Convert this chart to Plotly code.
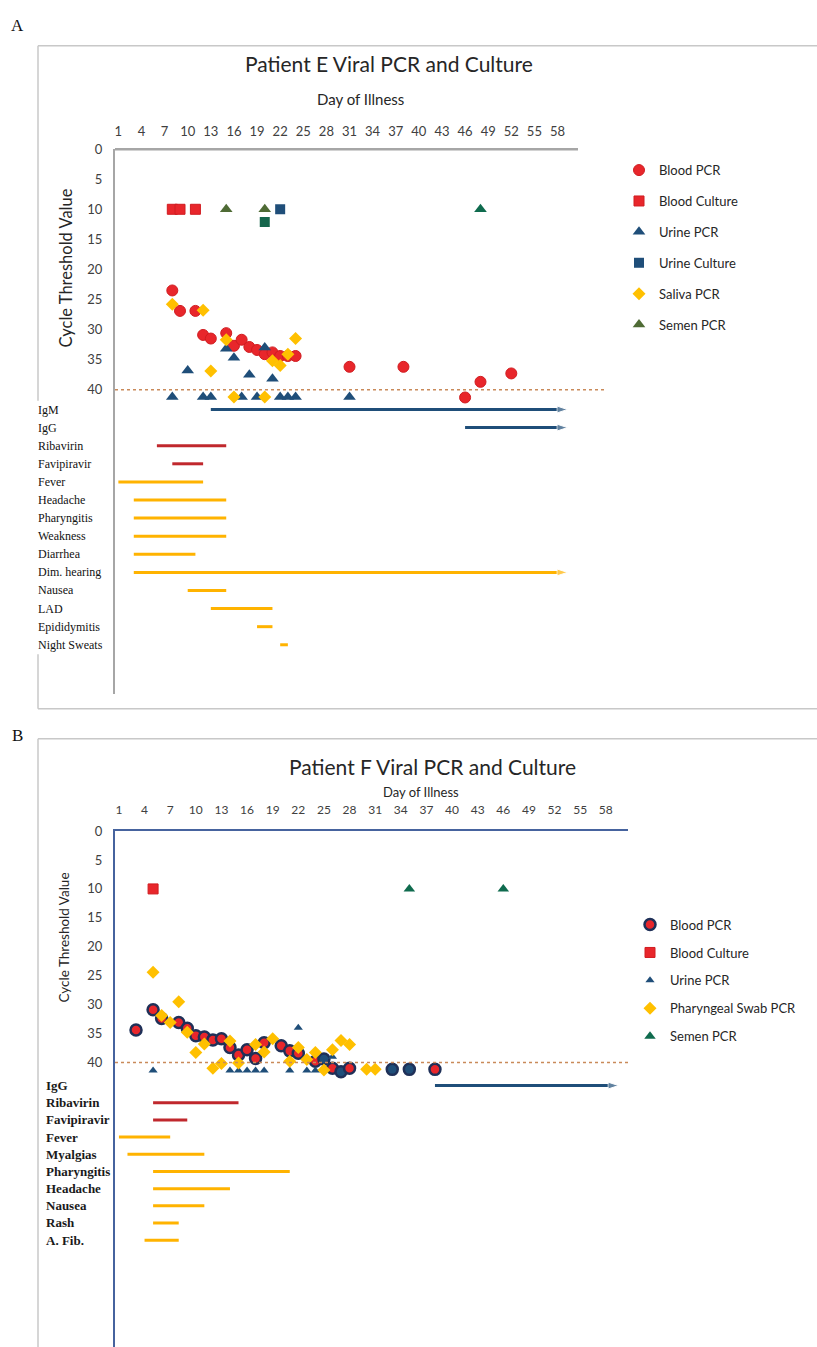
import plotly.graph_objects as go

W, H = 817, 1347
def px(x): return x / W
def py(y): return 1 - y / H

# ---------------- shared ----------------
tick_days = list(range(1, 59, 3))
ct_ticks = [0, 5, 10, 15, 20, 25, 30, 35, 40]
threshold = 40

# ---------------- Panel A (Patient E) ----------------
a_blood_pcr_day = [8, 9, 11, 12, 13, 15, 16, 17, 18, 19, 20, 21, 22, 23, 24, 31, 38, 46, 48, 52]
a_blood_pcr_ct = [23.5, 26.9, 26.9, 30.9, 31.5, 30.6, 32.7, 31.7, 32.9, 33.4, 34.1, 33.8, 34.4, 34.4, 34.4, 36.2, 36.2, 41.3, 38.7, 37.3]
a_blood_cult_day = [8, 9, 11]
a_blood_cult_ct = [10, 10, 10]
a_urine_pcr_day = [8, 10, 12, 13, 15, 16, 17, 18, 19, 20, 21, 22, 23, 24, 31]
a_urine_pcr_ct = [41.2, 36.8, 41.2, 41.2, 33.2, 34.7, 41.2, 37.5, 41.2, 33.0, 38.2, 41.2, 41.2, 41.2, 41.2]
a_urine_cult_day = [22, 20]
a_urine_cult_ct = [10, 12.1]
a_saliva_day = [8, 12, 13, 15, 16, 20, 21, 22, 23, 24]
a_saliva_ct = [25.8, 26.8, 36.9, 31.7, 41.2, 41.2, 35.2, 36.0, 34.1, 31.5]
a_semen_day = [15, 20, 48]
a_semen_ct = [10, 10, 10]

a_sym_labels = ["IgM", "IgG", "Ribavirin", "Favipiravir", "Fever", "Headache", "Pharyngitis",
                "Weakness", "Diarrhea", "Dim. hearing", "Nausea", "LAD", "Epididymitis", "Night Sweats"]
a_sym_start = [13, 46, 6, 8, 1, 3, 3, 3, 3, 3, 10, 13, 19, 22]
a_sym_end = [59.3, 59.3, 15, 12, 12, 15, 15, 15, 11, 59.3, 15, 21, 21, 23]
a_sym_kind = ["ab", "ab", "drug", "drug", "sym", "sym", "sym", "sym", "sym", "sym", "sym", "sym", "sym", "sym"]
a_sym_arrow = [True, True, False, False, False, False, False, False, False, True, False, False, False, False]

# ---------------- Panel B (Patient F) ----------------
b_blood_pcr_day = [3, 5, 6, 8, 9, 10, 11, 12, 13, 14, 15, 16, 17, 18, 20, 21, 22, 24, 25, 26, 27, 28, 33, 35, 38]
b_blood_pcr_ct = [34.4, 30.9, 32.4, 33.1, 34.1, 35.4, 35.6, 36.1, 35.9, 37.4, 38.7, 37.8, 39.3, 36.6, 37.1, 38.0, 38.4, 39.8, 39.4, 41.0, 41.6, 41.0, 41.2, 41.2, 41.2]
b_blood_pcr_navy = [False]*18 + [True, False, True, False, True, True, False]
b_blood_cult_day = [5]
b_blood_cult_ct = [10]
b_urine_pcr_day = [5, 14, 15, 16, 17, 18, 21, 22, 23, 24, 26]
b_urine_pcr_ct = [41.4, 41.4, 41.4, 41.4, 41.4, 41.4, 41.4, 34.0, 41.4, 41.4, 39.0]
b_swab_day = [5, 6, 7, 8, 9, 10, 11, 12, 13, 14, 15, 17, 18, 19, 21, 22, 23, 24, 25, 26, 27, 28, 30, 31]
b_swab_ct = [24.4, 31.9, 33.1, 29.5, 34.8, 38.3, 36.8, 41.0, 40.2, 36.3, 40.1, 36.9, 38.2, 35.9, 39.8, 37.4, 39.5, 38.3, 41.3, 37.8, 36.2, 36.9, 41.2, 41.2]
b_semen_day = [35, 46]
b_semen_ct = [10, 10]

b_sym_labels = ["IgG", "Ribavirin", "Favipiravir", "Fever", "Myalgias", "Pharyngitis",
                "Headache", "Nausea", "Rash", "A. Fib."]
b_sym_start = [38, 5, 5, 1, 2, 5, 5, 5, 5, 4]
b_sym_end = [59.5, 15, 9, 7, 11, 21, 14, 11, 8, 8]
b_sym_kind = ["ab", "drug", "drug", "sym", "sym", "sym", "sym", "sym", "sym", "sym"]
b_sym_arrow = [True, False, False, False, False, False, False, False, False, False]

# ---------------- styles ----------------
RED = "#e8262b"
NAVY = "#1f4e79"
GOLD = "#ffc000"
OLIVE = "#4f6b35"
DGREEN = "#0f6b4e"
BAR_RED = "#c0282d"
BAR_GOLD = "#ffb300"
kind_color = {"ab": NAVY, "drug": BAR_RED, "sym": BAR_GOLD}
FONT = "Lato"
SERIF = "Liberation Serif"

fig = go.Figure()

def scat(x, y, name, xa, ya, legend, marker, showlegend=True):
    fig.add_trace(go.Scatter(x=x, y=y, mode="markers", name=name, xaxis=xa, yaxis=ya,
                             legend=legend, legendgroup=name + legend, marker=marker,
                             showlegend=showlegend, hoverinfo="x+y+name"))

# Panel A markers
scat(a_blood_pcr_day, a_blood_pcr_ct, "Blood PCR", "x", "y", "legend",
     dict(symbol="circle", size=11, color=RED, line=dict(color="#d01c20", width=1)))
scat(a_blood_cult_day, a_blood_cult_ct, "Blood Culture", "x", "y", "legend",
     dict(symbol="square", size=10, color=RED, line=dict(color="#d01c20", width=1)))
scat(a_urine_pcr_day, a_urine_pcr_ct, "Urine PCR", "x", "y", "legend",
     dict(symbol="triangle-up", size=11, color=NAVY))
scat(a_urine_cult_day, a_urine_cult_ct, "Urine Culture", "x", "y", "legend",
     dict(symbol="square", size=10, color=[NAVY, "#16664c"]))
scat(a_saliva_day, a_saliva_ct, "Saliva PCR", "x", "y", "legend",
     dict(symbol="diamond", size=10, color=GOLD))
scat(a_semen_day, a_semen_ct, "Semen PCR", "x", "y", "legend",
     dict(symbol="triangle-up", size=11, color=[OLIVE, OLIVE, DGREEN]))

# Panel B markers
scat(b_blood_pcr_day, b_blood_pcr_ct, "Blood PCR", "x2", "y2", "legend2",
     dict(symbol="circle", size=11, color=[NAVY if n else RED for n in b_blood_pcr_navy],
          line=dict(color="#1f3058", width=2.5)))
scat(b_blood_cult_day, b_blood_cult_ct, "Blood Culture", "x2", "y2", "legend2",
     dict(symbol="square", size=10, color=RED, line=dict(color="#d01c20", width=1)))
scat(b_urine_pcr_day, b_urine_pcr_ct, "Urine PCR", "x2", "y2", "legend2",
     dict(symbol="triangle-up", size=8, color=NAVY))
scat(b_swab_day, b_swab_ct, "Pharyngeal Swab PCR", "x2", "y2", "legend2",
     dict(symbol="diamond", size=10, color=GOLD))
scat(b_semen_day, b_semen_ct, "Semen PCR", "x2", "y2", "legend2",
     dict(symbol="triangle-up", size=10, color=DGREEN))

# Symptom / treatment bars
def bars(labels, starts, ends, kinds, arrows, row0, step, xa, ya, xlab, fontdict):
    for i, lab in enumerate(labels):
        row = row0 + step * i
        col = kind_color[kinds[i]]
        if arrows[i]:
            fig.add_trace(go.Scatter(x=[starts[i], ends[i]], y=[row, row], xaxis=xa, yaxis=ya,
                                     mode="lines+markers", line=dict(color=col, width=3),
                                     marker=dict(symbol="arrow", size=[0, 11], angleref="previous",
                                                 color=col),
                                     showlegend=False, hoverinfo="skip"))
        else:
            fig.add_trace(go.Scatter(x=[starts[i], ends[i]], y=[row, row], xaxis=xa, yaxis=ya,
                                     mode="lines", line=dict(color=col, width=3),
                                     showlegend=False, hoverinfo="skip"))
        fig.add_annotation(text=lab, xref="paper", x=px(xlab), xanchor="left",
                           yref=ya, y=row, yanchor="middle", showarrow=False, font=fontdict)

bars(a_sym_labels, a_sym_start, a_sym_end, a_sym_kind, a_sym_arrow, 43.3, 3.01, "x", "y", 36,
     dict(family=SERIF, size=12, color="#111111"))
bars(b_sym_labels, b_sym_start, b_sym_end, b_sym_kind, b_sym_arrow, 44.0, 2.97, "x2", "y2", 44,
     dict(family=SERIF, size=13, color="#1a1a1a", weight="bold"))

# ---------------- layout ----------------
tickfontA = dict(family=FONT, size=13, color="#404040")
tickfontB = dict(family=FONT, size=12, color="#404040")
ytickfont = dict(family=FONT, size=13, color="#404040")
GRAYAX = "#a6a6a6"
BLUEAX = "#46639e"

fig.update_layout(
    width=W, height=H, margin=dict(l=0, r=0, t=0, b=0),
    paper_bgcolor="white", plot_bgcolor="white",
    font=dict(family=FONT),
    xaxis=dict(domain=[px(115), px(605)], range=[0.563, 64.16], side="top", anchor="y",
               tickvals=tick_days, tickfont=tickfontA, showgrid=False, zeroline=False,
               showline=False, ticks="", ticklabelstandoff=10),
    yaxis=dict(domain=[py(690), py(142)], range=[90.6, 0], anchor="x", tickvals=ct_ticks,
               tickfont=ytickfont, showgrid=False, zeroline=False, showline=True,
               linecolor=GRAYAX, linewidth=2, ticks="", ticklabelstandoff=8),
    xaxis2=dict(domain=[px(115), px(628)], range=[0.54, 60.6], side="top", anchor="y2",
                tickvals=tick_days, tickfont=tickfontB, showgrid=False, zeroline=False,
                showline=True, linecolor=BLUEAX, linewidth=2, ticks="", ticklabelstandoff=10),
    yaxis2=dict(domain=[0, py(828)], range=[89.2, 0], anchor="x2", tickvals=ct_ticks,
                tickfont=ytickfont, showgrid=False, zeroline=False, showline=True,
                linecolor=BLUEAX, linewidth=2, ticks="", ticklabelstandoff=8),
    legend=dict(x=px(619), y=py(148), xanchor="left", yanchor="top",
                font=dict(family=FONT, size=13, color="#262626"),
                bgcolor="rgba(0,0,0,0)", tracegroupgap=11, traceorder="grouped"),
    legend2=dict(x=px(630), y=py(907), xanchor="left", yanchor="top",
                 font=dict(family=FONT, size=13, color="#262626"),
                 bgcolor="rgba(0,0,0,0)", tracegroupgap=8, traceorder="grouped"),
    showlegend=True,
)

shapes = []
shapes.append(dict(type="line", xref="x domain", x0=0, x1=1, yref="y", y0=threshold, y1=threshold,
                   line=dict(color="#c98a5a", width=1.5, dash="dot")))
shapes.append(dict(type="line", xref="x2 domain", x0=0, x1=1, yref="y2", y0=threshold, y1=threshold,
                   line=dict(color="#c98a5a", width=1.5, dash="dot")))
shapes.append(dict(type="line", xref="paper", yref="paper", x0=px(115), x1=px(578), y0=py(142), y1=py(142),
                   line=dict(color=GRAYAX, width=2.5)))
FR = "#c8c8c8"
shapes += [
    dict(type="line", xref="paper", yref="paper", x0=px(38), x1=1, y0=py(38), y1=py(38), line=dict(color=FR, width=1.5)),
    dict(type="line", xref="paper", yref="paper", x0=px(38), x1=px(38), y0=py(38), y1=py(395), line=dict(color=FR, width=1.5)),
    dict(type="line", xref="paper", yref="paper", x0=px(38), x1=px(38), y0=py(650), y1=py(705), line=dict(color=FR, width=1.5)),
    dict(type="line", xref="paper", yref="paper", x0=px(38), x1=1, y0=py(705), y1=py(705), line=dict(color=FR, width=1.5)),
    dict(type="line", xref="paper", yref="paper", x0=px(38), x1=1, y0=py(735), y1=py(735), line=dict(color=FR, width=1.5)),
    dict(type="line", xref="paper", yref="paper", x0=px(38), x1=px(38), y0=py(735), y1=0, line=dict(color=FR, width=1.5)),
]
fig.update_layout(shapes=shapes)

def ann(text, x, y, size, family=FONT, color="#262626", angle=0):
    fig.add_annotation(text=text, xref="paper", yref="paper", x=px(x), y=py(y),
                       xanchor="center", yanchor="middle", showarrow=False, textangle=angle,
                       font=dict(family=family, size=size, color=color))

ann("A", 17, 18, 17, family=SERIF, color="#111")
ann("B", 17, 732, 17, family=SERIF, color="#111")
ann("Patient E Viral PCR and Culture", 389, 56, 21)
ann("Day of Illness", 360, 92, 15)
ann("Cycle Threshold Value", 66, 262, 16.5, angle=-90)
ann("Patient F Viral PCR and Culture", 432, 763, 21)
ann("Day of Illness", 421, 789, 13)
ann("Cycle Threshold Value", 64, 935, 13.5, angle=-90)

fig.write_html("out.html", config={"displayModeBar": False},
               post_script="document.body.style.margin='0';document.body.style.padding='0';"
                           "document.body.style.overflow='hidden';"
                           "var g=document.getElementById('{plot_id}');"
                           "g.style.position='absolute';g.style.top='0px';g.style.left='0px';")
